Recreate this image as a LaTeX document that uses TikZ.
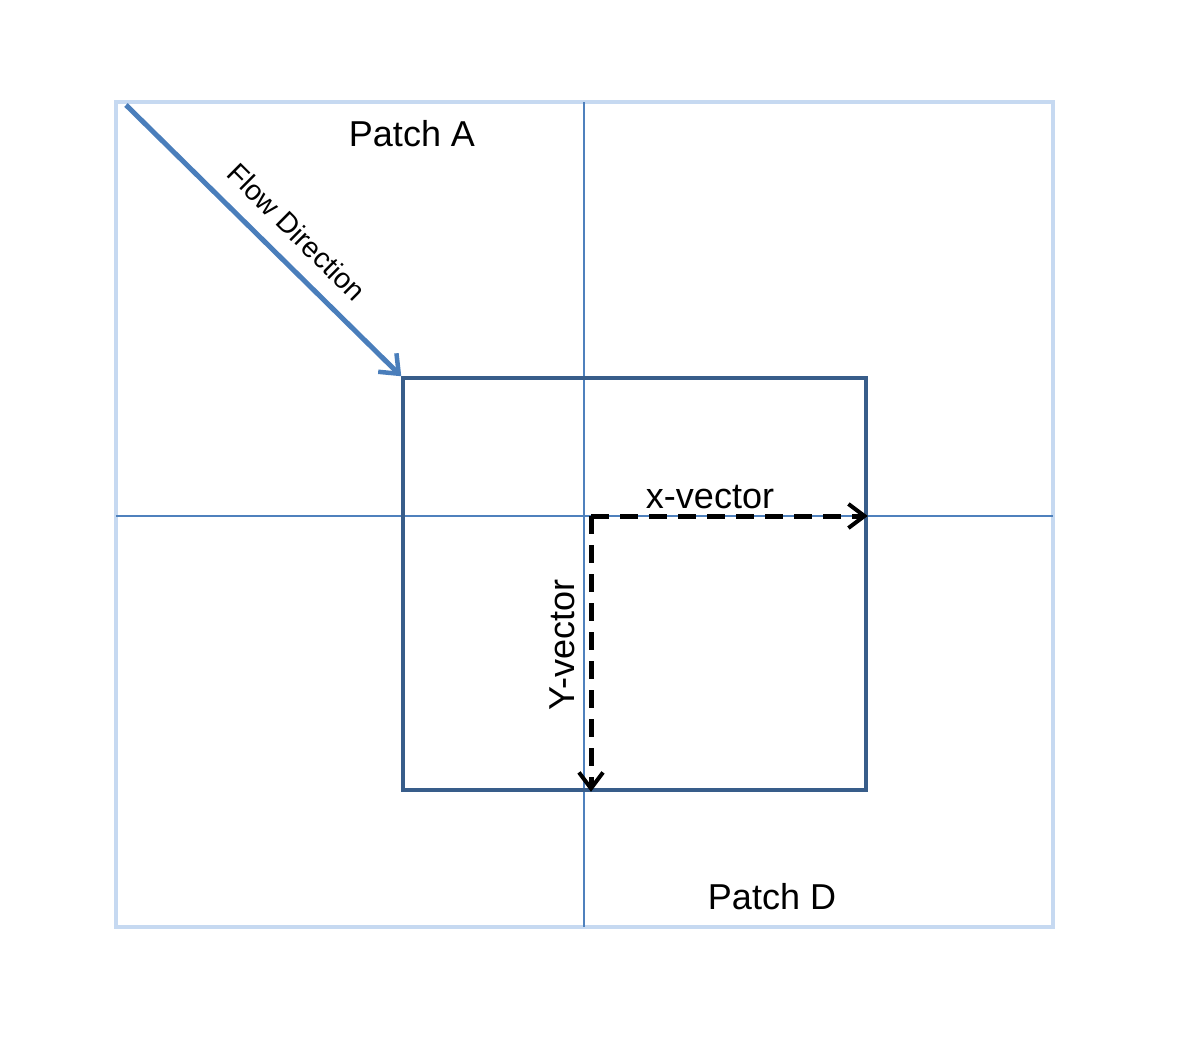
\documentclass[tikz,border=0pt]{standalone}
\usepackage{fontspec}
\setmainfont{Liberation Sans}
\usetikzlibrary{arrows.meta}
\definecolor{outerblue}{HTML}{C6D9F1}
\definecolor{gridblue}{HTML}{4F81BD}
\definecolor{cellblue}{HTML}{385D8A}
\definecolor{flowblue}{HTML}{4A7EBB}
\tikzset{
  lbl/.style={inner sep=0pt,font=\fontsize{36}{40}\selectfont},
  vec/.style={black,line width=5pt,dash pattern=on 18pt off 11pt,-{Straight Barb[length=16pt,width=24pt,line width=4pt]}},
}
\begin{document}
\begin{tikzpicture}[x=1pt,y=-1pt]
\useasboundingbox (0,0) rectangle (1181,1044);
%\draw[step=100,gray,very thin] (0,0) grid (1181,1044); %background grid
\draw[outerblue,line width=3.5pt] (116,102) rectangle (1053,927);
\draw[gridblue,line width=1.6pt] (584,102) -- (584,927);
\draw[gridblue,line width=1.6pt] (116,516) -- (1053,516);
\node[draw=cellblue,line width=3.5pt,minimum width=463pt,minimum height=412pt,inner sep=0pt] (cell) at (634.5,584) {};
%---------------------------------------------------
\node[lbl] (patchA) at (412,134) {Patch A};
\node[lbl] (patchD) at (772,897) {Patch D};
%---------------------------------------------------
\coordinate (flowstart) at (126,105);
\draw[flowblue,line width=5pt,-{Straight Barb[length=16pt,width=26pt,line width=4.5pt]}] (flowstart) -- (cell.north west);
\node[inner sep=0pt,rotate=-44.8,font=\fontsize{28.5}{31}\selectfont] (flowlbl) at (297,232) {Flow Direction};
%---------------------------------------------------
\coordinate (origin) at (591,516);
\draw[vec] (origin) -- (cell.east |- origin);
\draw[vec] (origin) -- (origin |- cell.south);
\node[lbl] (xlbl) at (710,497) {x-vector};
\node[lbl,rotate=90] (ylbl) at (562,645) {Y-vector};
\end{tikzpicture}
\end{document}
